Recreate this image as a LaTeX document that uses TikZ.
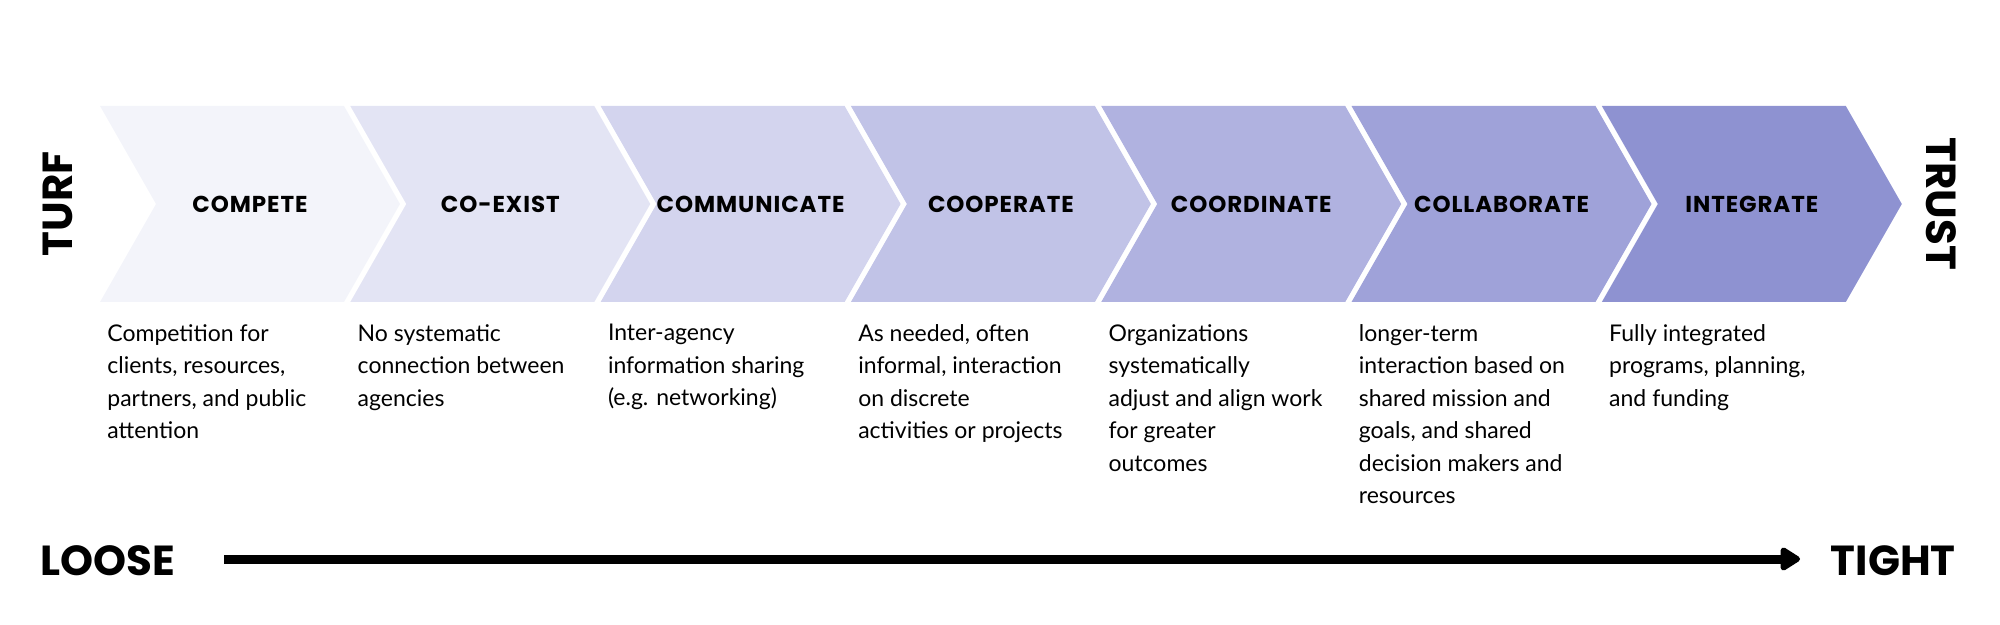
\documentclass[tikz,border=0pt]{standalone}
\usepackage{fontspec}
\setmainfont{Lato}
\newfontfamily\headfont[LetterSpace=4]{Poppins}
\newfontfamily\bigfont{Poppins}
\usetikzlibrary{arrows.meta}
\definecolor{c1}{HTML}{F3F4FA}
\definecolor{c2}{HTML}{E3E4F4}
\definecolor{c3}{HTML}{D3D4EE}
\definecolor{c4}{HTML}{C1C3E7}
\definecolor{c5}{HTML}{B0B2E0}
\definecolor{c6}{HTML}{9FA2D9}
\definecolor{c7}{HTML}{8E92D1}
\tikzset{
  lbl/.style={font=\headfont\bfseries\fontsize{11.5}{13}\selectfont, text=black},
  desc/.style={font=\fontsize{11.5}{16.25}\selectfont, align=left, anchor=north west, inner sep=0pt},
  big/.style={font=\bigfont\bfseries\fontsize{21}{24}\selectfont},
}
\begin{document}
\begin{tikzpicture}[x=0.5pt,y=-0.5pt]
\useasboundingbox (0,0) rectangle (2000,625);
\foreach \i/\c/\t/\d in {
0/c1/COMPETE/{Competition for\\clients, resources,\\partners, and public\\attention},
1/c2/CO-EXIST/{No systematic\\connection between\\agencies},
2/c3/COMMUNICATE/{Inter-agency\\information sharing\\(e.g. networking)},
3/c4/COOPERATE/{As needed, often\\informal, interaction\\on discrete\\activities or projects},
4/c5/COORDINATE/{Organizations\\systematically\\adjust and align work\\for greater\\outcomes},
5/c6/COLLABORATE/{longer-term\\interaction based on\\shared mission and\\goals, and shared\\decision makers and\\resources},
6/c7/INTEGRATE/{Fully integrated\\programs, planning,\\and funding}} {
  \pgfmathsetmacro{\xo}{100+250.3*\i}
  \fill[\c] (\xo,106) -- (\xo+244,106) -- (\xo+300,204) -- (\xo+244,302) -- (\xo,302) -- (\xo+56,204) -- cycle;
  \node[lbl] (l\i) at (\xo+150,204) {\t};
  \node[desc] (d\i) at (\xo+7,324) {\d};
}
\node[big, rotate=90] (turf) at (58,204) {TURF};
\node[big, rotate=-90] (trust) at (1941,204) {TRUST};
\node[big, anchor=west, inner sep=0pt] (loose) at (40,561) {LOOSE};
\node[big, anchor=east, inner sep=0pt] (tight) at (1956,561) {TIGHT};
\draw[line width=4.5pt, -{Triangle[round, length=11pt, width=13pt]}] (224,559) -- (1800,559);
\end{tikzpicture}
\end{document}
